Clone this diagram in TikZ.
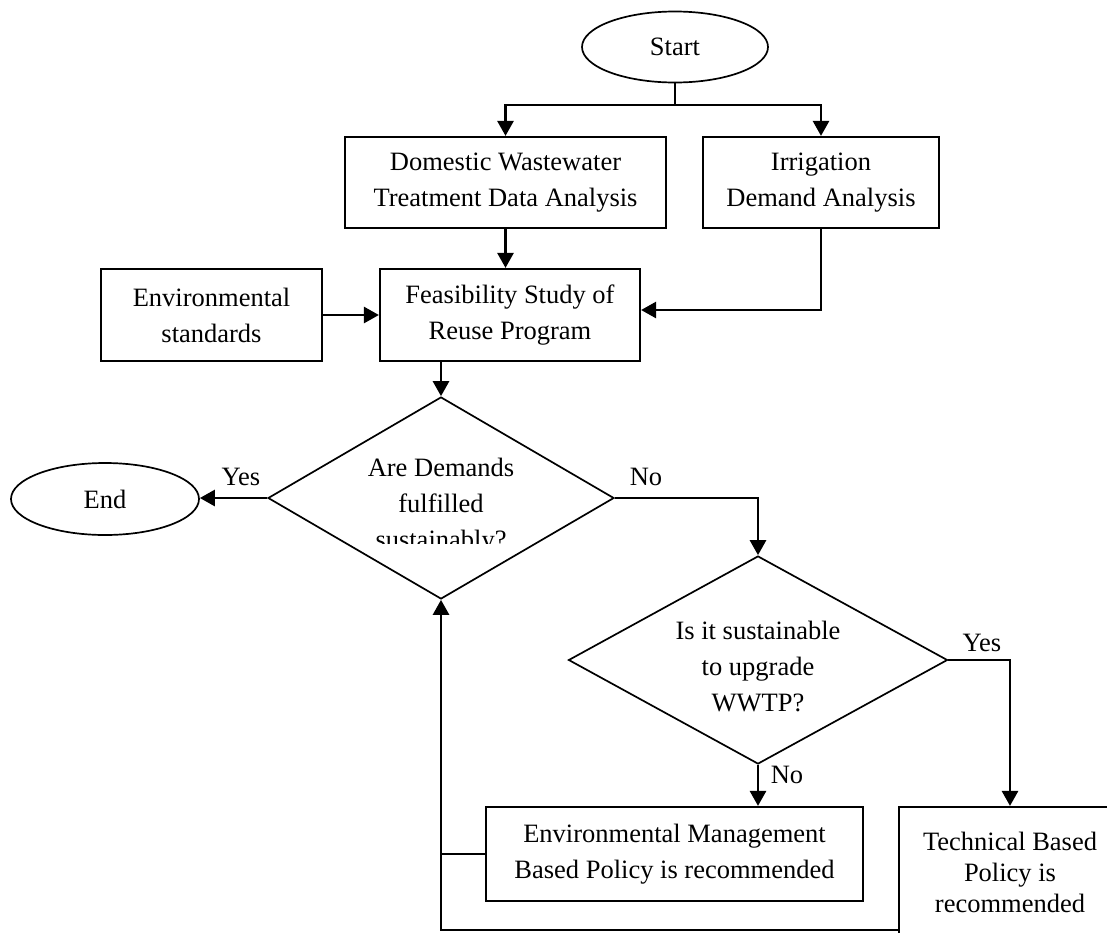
\documentclass[tikz,border=0pt]{standalone}
\usepackage{fontspec}
\setmainfont{Liberation Serif}
\usetikzlibrary{shapes.geometric,arrows.meta}
\begin{document}
\begin{tikzpicture}[x=1pt,y=-1pt,
  txt/.style={font=\fontsize{26.5}{36}\selectfont,align=center,inner sep=0pt},
  box/.style={txt,draw,rectangle,line width=2.2pt},
  oval/.style={txt,draw,ellipse,line width=1.7pt},
  dia/.style={draw,diamond,line width=1.7pt,inner sep=0pt},
  conn/.style={line width=2.7pt},
  arr/.style={conn,-{Triangle[length=15pt,width=16pt]}},
  lbl/.style={font=\fontsize{26.5}{36}\selectfont,inner sep=0pt}
]
\useasboundingbox (0,0) rectangle (1107,932);
\clip (0,0) rectangle (1107,932);

% nodes
\node[oval,minimum width=186pt,minimum height=71pt] (start) at (675,47) {Start};
\node[box,minimum width=321pt,minimum height=91pt] (dom) at (505.5,182.5) {Domestic Wastewater\\Treatment Data Analysis};
\node[box,minimum width=236pt,minimum height=91pt] (irr) at (821,182.5) {Irrigation\\Demand Analysis};
\node[box,minimum width=221pt,minimum height=92pt] (env) at (211.5,315) {Environmental\\standards};
\node[box,minimum width=260pt,minimum height=92pt] (feas) at (510,315) {Feasibility Study of\\Reuse Program};
\node[dia,minimum width=346pt,minimum height=202pt] (d1) at (441,498) {};
\begin{scope}
  \clip (300,420) rectangle (600,543);
  \node[txt] (d1t) at (441,506) {Are Demands\\fulfilled\\sustainably?};
\end{scope}
\node[oval,minimum width=188pt,minimum height=72pt] (end) at (105,499) {End};
\node[dia,minimum width=379pt,minimum height=208pt] (d2) at (758,660) {};
\node[txt] (d2t) at (758,666) {Is it sustainable\\to upgrade\\WWTP?};
\node[box,minimum width=377pt,minimum height=94pt] (emg) at (674.5,854) {Environmental Management\\Based Policy is recommended};
\node[box,minimum width=222pt,minimum height=130pt,font=\fontsize{26.5}{31}\selectfont] (tech) at (1010,872) {Technical Based\\Policy is\\recommended};

% labels
\node[lbl] (l1) at (241,477) {Yes};
\node[lbl] (l2) at (646,477) {No};
\node[lbl] (l3) at (982,643) {Yes};
\node[lbl] (l4) at (787,775) {No};

% connectors
\coordinate (sp) at (start.south |- 0,105);
\draw[line width=1.2pt] (start.south) -- (sp);
\draw[arr] (sp) -| (dom.north);
\draw[arr] (sp) -| (irr.north);
\draw[arr] (dom.south) -- (dom.south |- feas.north);
\draw[arr] (irr.south) |- ([yshift=5pt]feas.east);
\draw[arr] (env.east) -- (feas.west);
\draw[arr] (feas.south -| d1.north) -- (d1.north);
\draw[arr] (d1.west) -- (d1.west -| end.east);
\draw[arr] (d1.east) -| (d2.north);
\draw[arr] (d2.east) -| (tech.north);
\draw[arr] (d2.south) -- (d2.south |- emg.north);
\coordinate (tb) at (tech.west |- 0,930);
\coordinate (lb) at (d1.south |- 0,930);
\draw[conn] (emg.west) -- (emg.west -| d1.south);
\draw[arr] (tb) -- (lb) -- (d1.south);
\end{tikzpicture}
\end{document}
